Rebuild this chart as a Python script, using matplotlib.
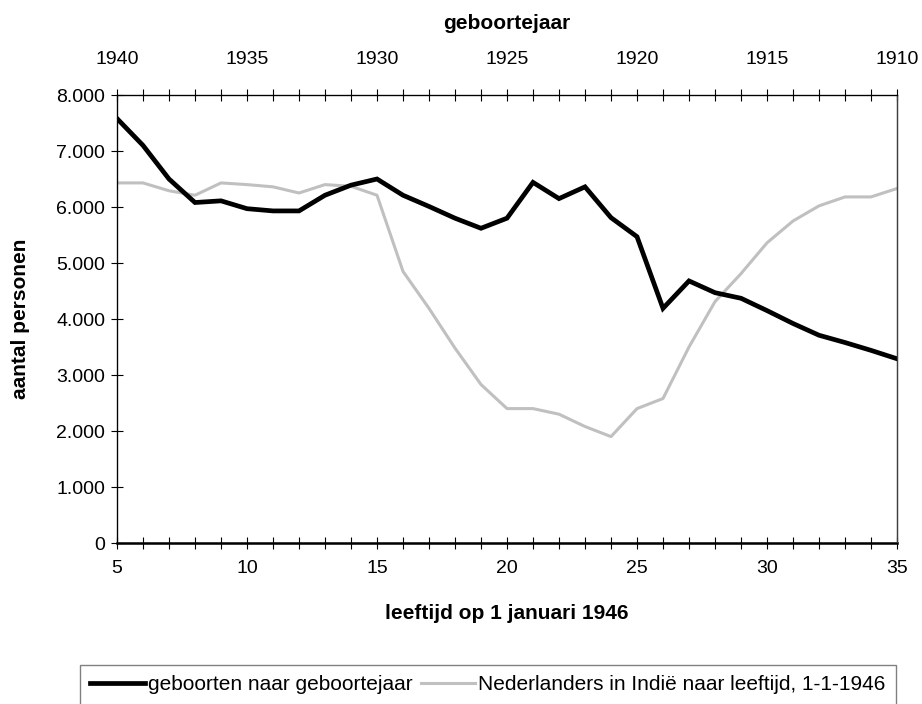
import matplotlib.pyplot as plt
from matplotlib.ticker import FuncFormatter, MultipleLocator

plt.rcParams['font.family'] = ['Liberation Sans', 'DejaVu Sans']

# leeftijd op 1 januari 1946
leeftijd = list(range(5, 36))

geboorten = [7580, 7100, 6500, 6080, 6110, 5970, 5930, 5930, 6210, 6390,
             6500, 6210, 6010, 5800, 5620, 5800, 6440, 6150, 6360, 5810,
             5470, 4190, 4680, 4470, 4370, 4150, 3920, 3710, 3580, 3440,
             3290]

nederlanders_indie = [6430, 6430, 6290, 6210, 6430, 6400, 6360, 6250, 6400, 6370,
                      6210, 4850, 4190, 3480, 2830, 2400, 2400, 2300, 2080, 1900,
                      2400, 2580, 3500, 4310, 4810, 5360, 5750, 6020, 6180, 6180,
                      6330]

geboortejaar_ticks = [1940, 1935, 1930, 1925, 1920, 1915, 1910]

TICK_FS = 14
LABEL_FS = 15

fig = plt.figure(figsize=(9.22, 7.04), dpi=100)
ax = fig.add_axes([117 / 922, 1 - 543 / 704, 780 / 922, 448 / 704])

ax.plot(leeftijd, geboorten, color='black', lw=3.4, solid_joinstyle='miter',
        label='geboorten naar geboortejaar', zorder=3)
ax.plot(leeftijd, nederlanders_indie, color='#c0c0c0', lw=2.2,
        label='Nederlanders in Indië naar leeftijd, 1-1-1946', zorder=2)

ax.set_xlim(5, 35)
ax.set_ylim(0, 8000)
ax.xaxis.set_major_locator(MultipleLocator(5))
ax.xaxis.set_minor_locator(MultipleLocator(1))
ax.yaxis.set_major_locator(MultipleLocator(1000))
ax.yaxis.set_major_formatter(FuncFormatter(lambda v, p: f"{v:,.0f}".replace(',', '.')))

ax.tick_params(axis='both', which='major', direction='inout', length=9, width=0.8,
               labelsize=TICK_FS, pad=4)
ax.tick_params(axis='x', which='minor', direction='inout', length=9, width=0.8)
ax.tick_params(axis='x', which='major', pad=8)

ax.spines['bottom'].set_linewidth(1.8)
ax.spines['left'].set_linewidth(0.9)
ax.spines['right'].set_color('#404040')
ax.spines['right'].set_linewidth(0.9)

ax.set_xlabel('leeftijd op 1 januari 1946', fontsize=LABEL_FS, fontweight='bold', labelpad=19)
ax.set_ylabel('aantal personen', fontsize=LABEL_FS, fontweight='bold', labelpad=19)

# bovenas: geboortejaar
top = ax.twiny()
top.set_xlim(1940, 1910)
top.set_xticks(geboortejaar_ticks)
top.xaxis.set_minor_locator(MultipleLocator(1))
top.tick_params(axis='x', which='both', direction='inout', length=9, width=0.8)
top.tick_params(axis='x', which='major', labelsize=TICK_FS, pad=15)
top.spines['top'].set_linewidth(0.9)
top.spines['right'].set_color('#404040')
top.spines['right'].set_linewidth(0.9)
top.set_xlabel('geboortejaar', fontsize=LABEL_FS, fontweight='bold', labelpad=16)

h, l = ax.get_legend_handles_labels()
leg = fig.legend(h, l, loc='upper left', bbox_to_anchor=(80 / 922, 1 - 665 / 704),
                 ncol=2, fontsize=15, frameon=True, fancybox=False,
                 edgecolor='#606060', handlelength=2.6, handletextpad=0.15,
                 columnspacing=0.4, borderpad=0.5, borderaxespad=0)
leg.get_frame().set_linewidth(1.0)

fig.savefig('out.png', dpi=100)
